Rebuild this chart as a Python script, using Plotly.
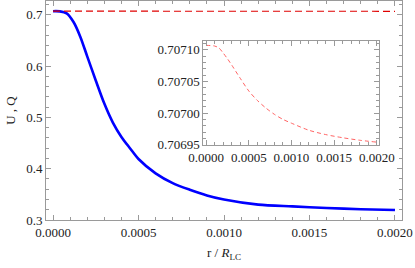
import plotly.graph_objects as go

# ---- data ----
r_u = [0, 0.00004, 0.00008, 0.00012, 0.00016, 0.0002, 0.00025, 0.0003, 0.00035,
       0.0004, 0.00045, 0.0005, 0.0006, 0.0007, 0.0008, 0.0009, 0.001, 0.0012,
       0.0014, 0.0016, 0.0018, 0.002]
u_vals = [0.7071, 0.7068, 0.703, 0.686, 0.657, 0.619, 0.572, 0.527, 0.490,
          0.462, 0.440, 0.419, 0.391, 0.372, 0.359, 0.348, 0.340, 0.330,
          0.3265, 0.3235, 0.3210, 0.3195]

r_q = [0, 0.0001, 0.00015, 0.0002, 0.00025, 0.0003, 0.0004, 0.0005, 0.0006,
       0.0007, 0.0008, 0.0009, 0.001, 0.0012, 0.0014, 0.0016, 0.0018, 0.002]
q_vals = [0.707107, 0.707106, 0.707103, 0.707095, 0.707086, 0.707076, 0.707055,
          0.707035, 0.707020, 0.707008, 0.706998, 0.706990, 0.706984, 0.706973,
          0.706966, 0.706961, 0.706957, 0.706954]

x_ticks = [0, 0.0005, 0.001, 0.0015, 0.002]
x_tick_text = ["0.0000", "0.0005", "0.0010", "0.0015", "0.0020"]
y_ticks = [0.3, 0.4, 0.5, 0.6, 0.7]
inset_y_ticks = [0.70695, 0.70700, 0.70705, 0.70710]

FONT = "Liberation Serif, Times New Roman, serif"
FRAME = "#9a9a9a"
TXT = "#222222"
FS = 13

fig = go.Figure()
fig.add_trace(go.Scatter(x=r_u, y=u_vals, mode="lines",
                         line=dict(color="#0000ff", width=2.6, shape="spline", smoothing=0.8),
                         xaxis="x", yaxis="y", showlegend=False))
fig.add_trace(go.Scatter(x=r_q, y=q_vals, mode="lines",
                         line=dict(color="#e00000", width=1.2, dash="7px,4px"),
                         xaxis="x", yaxis="y", showlegend=False))
fig.add_trace(go.Scatter(x=r_q, y=q_vals, mode="lines",
                         line=dict(color="#ff6464", width=1.0, dash="4px,3px", shape="spline", smoothing=0.8),
                         xaxis="x2", yaxis="y2", showlegend=False))

common = dict(showgrid=False, zeroline=False, showline=True, linecolor=FRAME, linewidth=1,
              mirror="allticks", ticks="inside", tickcolor=FRAME, ticklen=5, tickwidth=1,
              automargin=False, ticklabeloverflow="allow",
              tickfont=dict(family=FONT, size=FS, color=TXT))

fig.update_layout(
    width=415, height=268,
    margin=dict(l=46, r=13, t=1, b=48),
    paper_bgcolor="white", plot_bgcolor="white",
    font=dict(family=FONT, size=FS, color=TXT),
    xaxis=dict(domain=[0, 1], range=[-0.000041, 0.002041], tickvals=x_ticks, ticktext=x_tick_text,
               minor=dict(ticks="inside", dtick=0.0001, ticklen=3, tickcolor=FRAME, tick0=0),
               title=dict(text="r / <i>R</i><sub>LC</sub>", font=dict(family=FONT, size=FS, color=TXT), standoff=9),
               **common),
    yaxis=dict(domain=[0, 1], range=[0.3, 0.727], tickvals=y_ticks, tickformat=".1f",
               minor=dict(ticks="inside", dtick=0.02, ticklen=3, tickcolor=FRAME, tick0=0.3),
               title=dict(text="U , Q", font=dict(family=FONT, size=FS, color=TXT), standoff=7),
               **common),
    xaxis2=dict(domain=[0.442, 0.935], anchor="y2", range=[-0.0000316, 0.002023], tickvals=x_ticks,
                ticktext=x_tick_text,
                minor=dict(ticks="inside", dtick=0.0001, ticklen=3, tickcolor=FRAME, tick0=0),
                **common),
    yaxis2=dict(domain=[0.341, 0.819], anchor="x2", range=[0.706949, 0.7071145], tickvals=inset_y_ticks,
                tickformat=".5f",
                minor=dict(ticks="inside", dtick=0.00001, ticklen=3, tickcolor=FRAME, tick0=0.70695),
                **common),
)

fig.write_html("out.html", config={"displayModeBar": False},
               post_script="document.body.style.margin='0';")
